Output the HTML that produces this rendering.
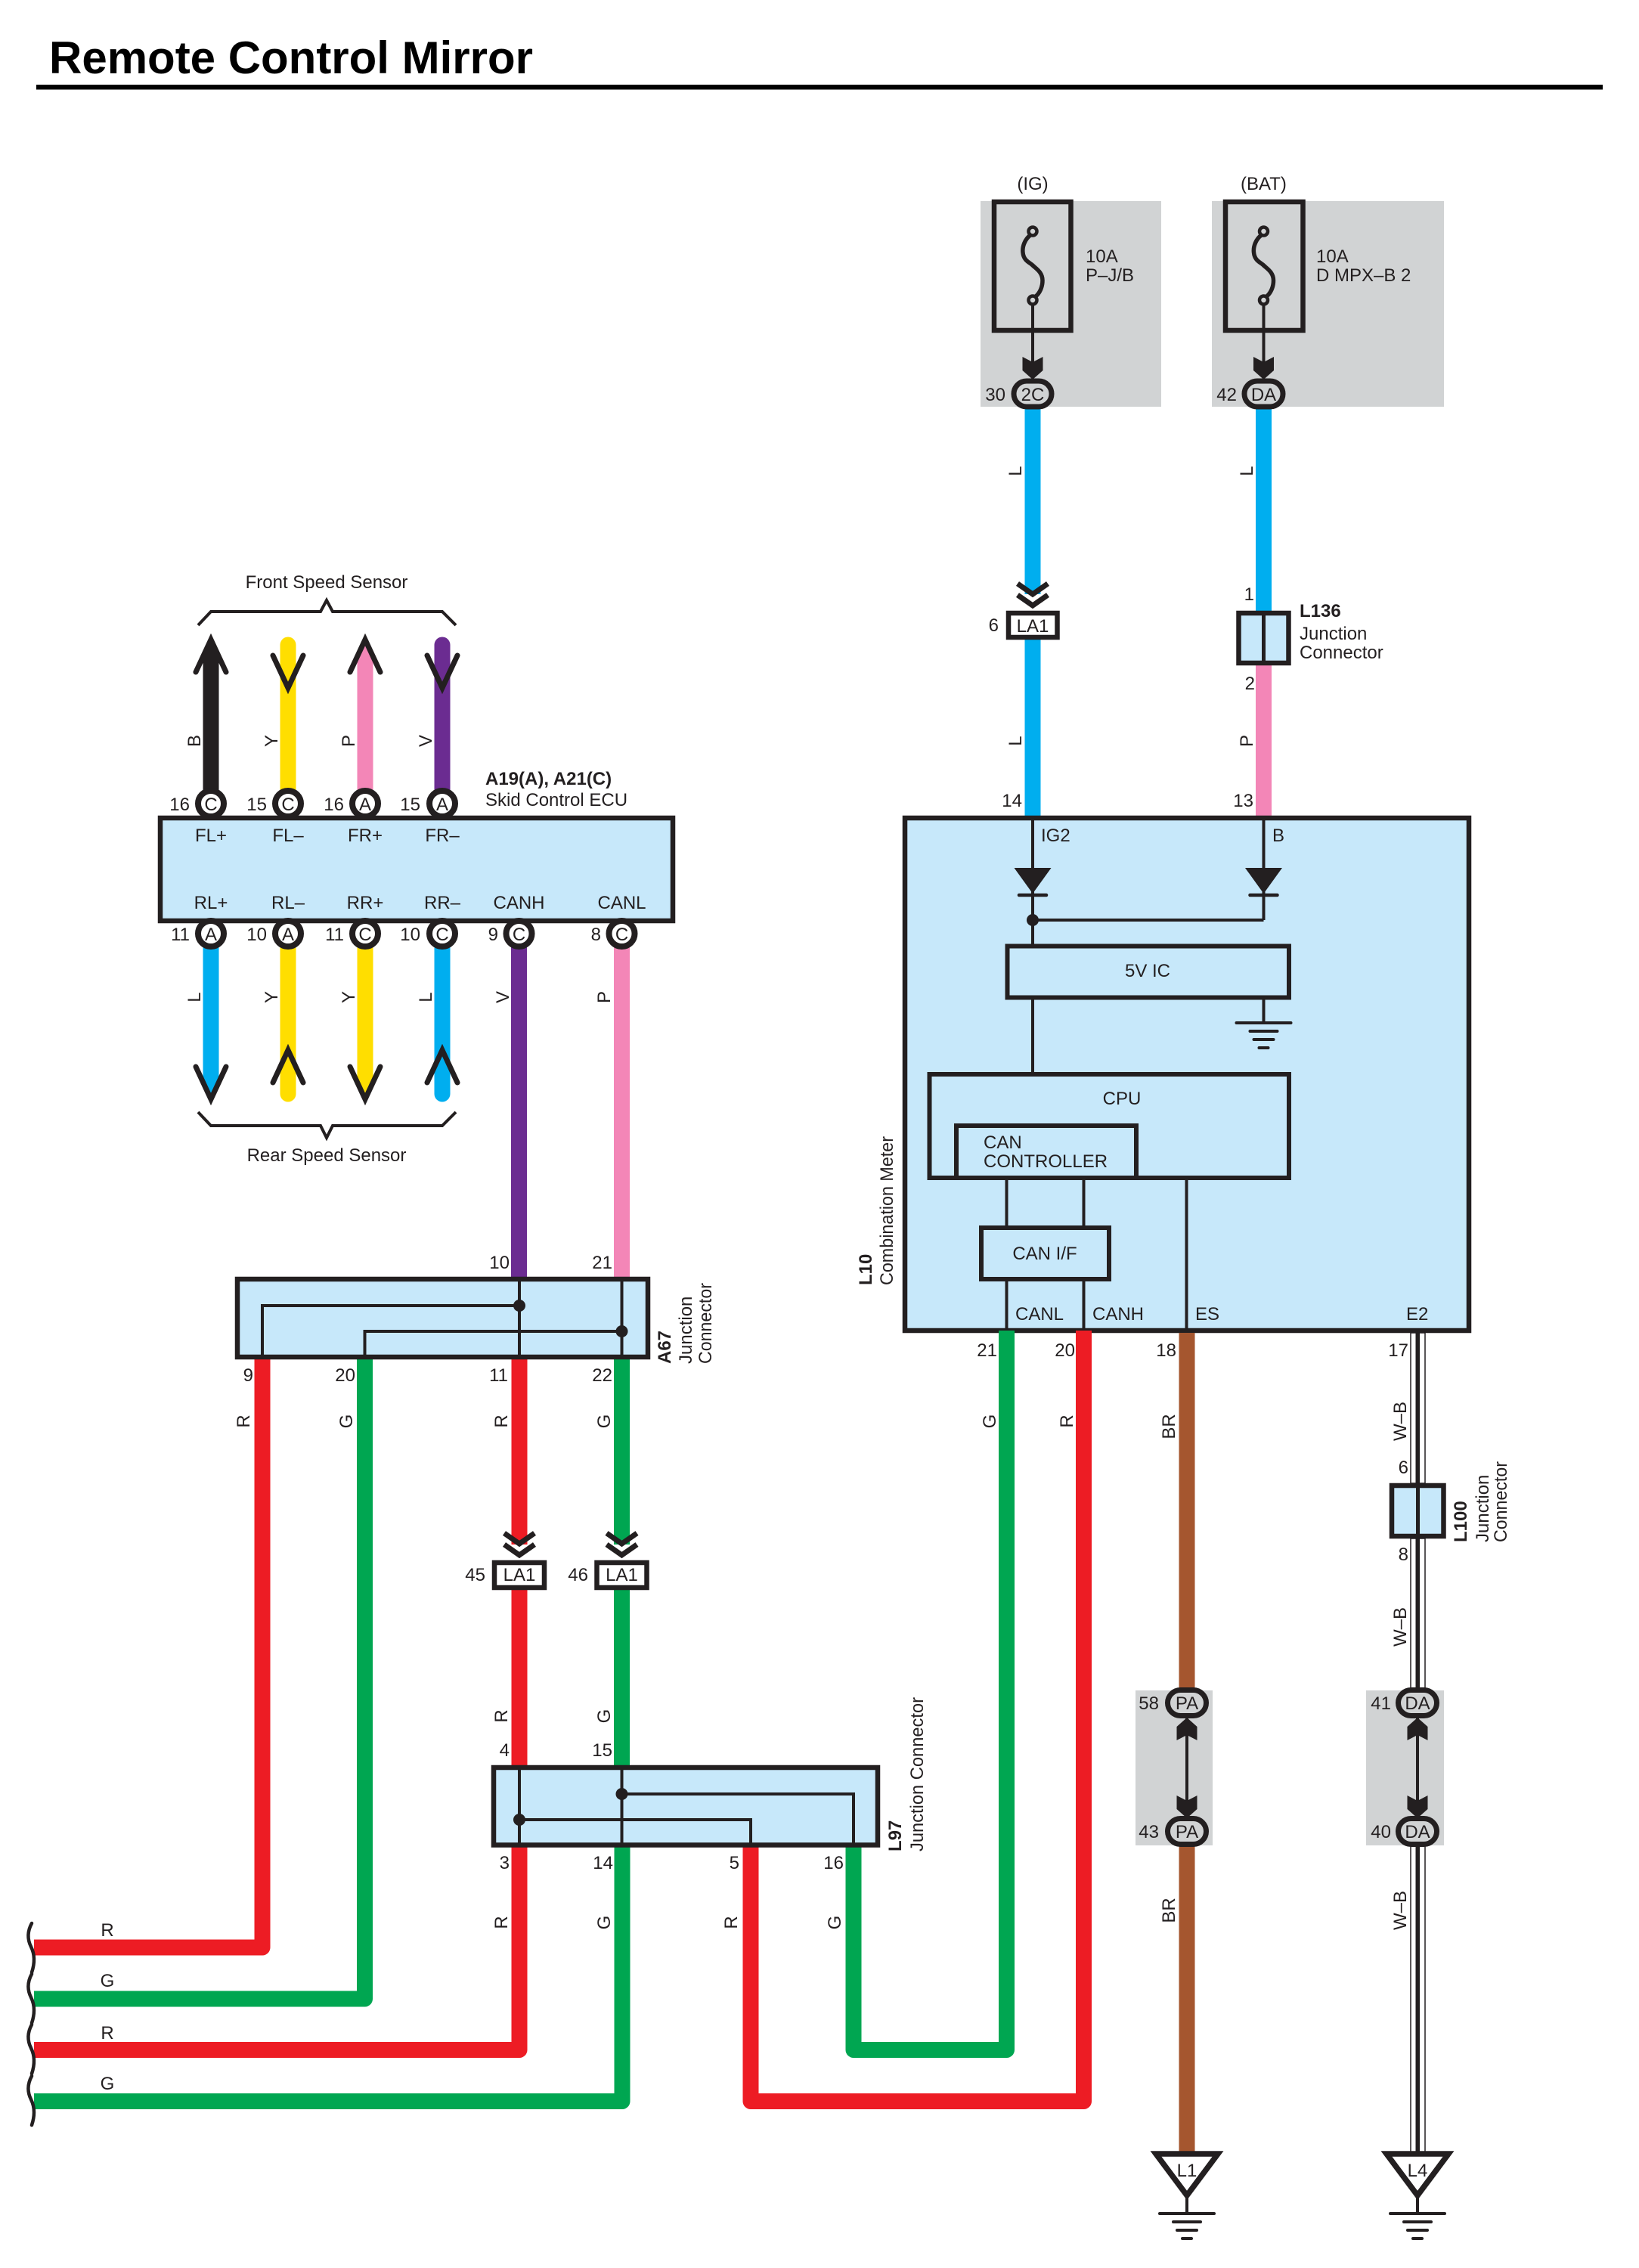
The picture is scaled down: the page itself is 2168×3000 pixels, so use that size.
<!DOCTYPE html>
<html>
<head>
<meta charset="utf-8">
<title>Remote Control Mirror</title>
<style>
html,body{margin:0;padding:0;background:#fff}
svg{display:block}
text{font-family:"Liberation Sans",sans-serif;font-size:24px;fill:#231f20}
.m{text-anchor:middle}
.e{text-anchor:end}
.b{font-weight:bold}
.w{fill:none;stroke-width:21;stroke-linejoin:round}
.box{fill:#c7e8fa;stroke:#231f20;stroke-width:6.5}
.ln{fill:none;stroke:#231f20;stroke-width:4}
.th{fill:none;stroke:#231f20;stroke-width:4;stroke-linecap:round}
.ch{fill:none;stroke:#231f20;stroke-width:7;stroke-linecap:round;stroke-linejoin:miter}
.pin{fill:#fff;stroke:#231f20;stroke-width:8}
.ov{fill:#d1d3d4;stroke:#231f20;stroke-width:7}
.la{fill:#fff;stroke:#231f20;stroke-width:6.5}
.dc{fill:none;stroke:#231f20;stroke-width:7}
.L{stroke:#00aeef}.Y{stroke:#ffde00}.P{stroke:#f386b7}.V{stroke:#6b2c91}.K{stroke:#231f20}
.R{stroke:#ed1c24}.G{stroke:#00a651}.BR{stroke:#a5562f}
</style>
</head>
<body>
<svg width="2168" height="3000" viewBox="0 0 2168 3000" xmlns="http://www.w3.org/2000/svg">
<defs>
<g id="dchev"><polyline class="dc" points="-20,-36 0,-22 20,-36"/><polyline class="dc" points="-20,-21 0,-7 20,-21"/></g>
<polygon id="ad" fill="#231f20" points="-13.5,-30 0,-23 13.5,-30 13.5,-12 0,0 -13.5,-12"/>
<g id="gnd">
<line class="th" x1="-36" x2="36" y1="0" y2="0"/><line class="th" x1="-18" x2="18" y1="11" y2="11"/><line class="th" x1="-13" x2="13" y1="22" y2="22"/><line class="th" x1="-6" x2="6" y1="33" y2="33"/>
</g>
<path id="sq" fill="none" stroke="#231f20" stroke-width="4.5" stroke-linecap="round" d="M42 0C36 11 36 21 41 31C46 41 46 53 42 65"/>
<g id="fuse">
<path fill="none" stroke="#231f20" stroke-width="5.5" d="M-3 311C-10 316-14 326-13 334C-12 345-4 347 0 351C4 355 13 360 13 371C13 380 9 388 4 392"/>
<circle cx="0" cy="306" r="5.5" fill="#d1d3d4" stroke="#231f20" stroke-width="4.5"/>
<circle cx="0" cy="397" r="5.5" fill="#d1d3d4" stroke="#231f20" stroke-width="4.5"/>
<line class="ln" x1="0" x2="0" y1="403" y2="485"/>
<use href="#ad" y="502"/>
</g>
<g id="diode">
<polygon fill="#231f20" points="-24.5,0 24.5,0 0,34"/>
<line stroke="#231f20" stroke-width="4.5" stroke-linecap="round" x1="-18" x2="18" y1="36" y2="36"/>
</g>
<g id="gtri">
<polygon fill="#fff" stroke="#231f20" stroke-width="7.5" stroke-linejoin="miter" points="-41,0 41,0 0,55"/>
<line class="ln" x1="0" x2="0" y1="58" y2="79"/>
<use href="#gnd" y="79"/>
</g>
</defs>

<rect width="2168" height="3000" fill="#fff"/>

<!-- title -->
<text class="b" x="65" y="97" style="font-size:60px;fill:#000" textLength="640" lengthAdjust="spacingAndGlyphs">Remote Control Mirror</text>
<rect x="48" y="112" width="2072" height="6.5" fill="#000"/>

<!-- grey areas -->
<rect x="1297" y="266" width="239" height="272" fill="#d1d3d4"/>
<rect x="1603" y="266" width="307" height="272" fill="#d1d3d4"/>
<rect x="1502" y="2236" width="102" height="205" fill="#d1d3d4"/>
<rect x="1807" y="2236" width="103" height="205" fill="#d1d3d4"/>

<!-- speed sensor wires -->
<line class="w K" x1="279" x2="279" y1="860" y2="1050"/>
<polygon fill="#231f20" points="268.5,872 279,846 289.5,872"/>
<line class="w Y" stroke-linecap="round" x1="381" x2="381" y1="853" y2="1045"/>
<line class="w P" x1="483" x2="483" y1="865" y2="1050"/>
<polygon fill="#f386b7" points="472.5,868 483,848 493.5,868"/>
<line class="w V" stroke-linecap="round" x1="585" x2="585" y1="853" y2="1045"/>
<line class="w L" x1="279" x2="279" y1="1240" y2="1440"/>
<polygon fill="#00aeef" points="268.5,1436 279,1454 289.5,1436"/>
<line class="w Y" stroke-linecap="round" x1="381" x2="381" y1="1240" y2="1447"/>
<line class="w Y" x1="483" x2="483" y1="1240" y2="1440"/>
<polygon fill="#ffde00" points="472.5,1436 483,1454 493.5,1436"/>
<line class="w L" stroke-linecap="round" x1="585" x2="585" y1="1240" y2="1447"/>
<polyline class="ch" points="259,889 279,846 299,889"/>
<polyline class="ch" points="361,867 381,910 401,867"/>
<polyline class="ch" points="463,889 483,846 503,889"/>
<polyline class="ch" points="565,867 585,910 605,867"/>
<polyline class="ch" points="259,1411 279,1454 299,1411"/>
<polyline class="ch" points="361,1432 381,1389 401,1432"/>
<polyline class="ch" points="463,1411 483,1454 503,1411"/>
<polyline class="ch" points="565,1432 585,1389 605,1432"/>

<!-- CAN wires down -->
<line class="w V" x1="686.5" x2="686.5" y1="1240" y2="1692"/>
<line class="w P" x1="822.5" x2="822.5" y1="1240" y2="1692"/>

<!-- braces -->
<polyline fill="none" stroke="#231f20" stroke-width="4" points="262,827 279,809 424,809 432,794 440,809 585,809 603,827"/>
<polyline fill="none" stroke="#231f20" stroke-width="4" points="262,1471 279,1489 424,1489 432,1505 440,1489 585,1489 603,1471"/>
<text class="m" x="432" y="778">Front Speed Sensor</text>
<text class="m" x="432" y="1536">Rear Speed Sensor</text>

<!-- ECU -->
<rect class="box" x="212" y="1082" width="678" height="136"/>
<g class="pins">
<circle class="pin" cx="279" cy="1063" r="17"/><circle class="pin" cx="381" cy="1063" r="17"/><circle class="pin" cx="483" cy="1063" r="17"/><circle class="pin" cx="585" cy="1063" r="17"/>
<circle class="pin" cx="279" cy="1235" r="17"/><circle class="pin" cx="381" cy="1235" r="17"/><circle class="pin" cx="483" cy="1235" r="17"/><circle class="pin" cx="585" cy="1235" r="17"/><circle class="pin" cx="686.5" cy="1235" r="17"/><circle class="pin" cx="822.5" cy="1235" r="17"/>
</g>
<text class="m" x="279" y="1072">C</text><text class="m" x="381" y="1072">C</text><text class="m" x="483" y="1072">A</text><text class="m" x="585" y="1072">A</text>
<text class="m" x="279" y="1244">A</text><text class="m" x="381" y="1244">A</text><text class="m" x="483" y="1244">C</text><text class="m" x="585" y="1244">C</text><text class="m" x="686.5" y="1244">C</text><text class="m" x="822.5" y="1244">C</text>
<text class="e" x="251" y="1072">16</text><text class="e" x="353" y="1072">15</text><text class="e" x="455" y="1072">16</text><text class="e" x="556" y="1072">15</text>
<text class="e" x="251" y="1244">11</text><text class="e" x="353" y="1244">10</text><text class="e" x="455" y="1244">11</text><text class="e" x="556" y="1244">10</text><text class="e" x="659" y="1244">9</text><text class="e" x="795" y="1244">8</text>
<text class="m" x="279" y="1113">FL+</text><text class="m" x="381" y="1113">FL–</text><text class="m" x="483" y="1113">FR+</text><text class="m" x="585" y="1113">FR–</text>
<text class="m" x="279" y="1202">RL+</text><text class="m" x="381" y="1202">RL–</text><text class="m" x="483" y="1202">RR+</text><text class="m" x="585" y="1202">RR–</text><text class="m" x="686.5" y="1202">CANH</text><text class="m" x="822.5" y="1202">CANL</text>
<text class="b" x="642" y="1038">A19(A), A21(C)</text>
<text x="642" y="1066">Skid Control ECU</text>
<text class="m" transform="rotate(-90 265 980)" x="265" y="980">B</text>
<text class="m" transform="rotate(-90 367 980)" x="367" y="980">Y</text>
<text class="m" transform="rotate(-90 469 980)" x="469" y="980">P</text>
<text class="m" transform="rotate(-90 571 980)" x="571" y="980">V</text>
<text class="m" transform="rotate(-90 265 1319)" x="265" y="1319">L</text>
<text class="m" transform="rotate(-90 367 1319)" x="367" y="1319">Y</text>
<text class="m" transform="rotate(-90 469 1319)" x="469" y="1319">Y</text>
<text class="m" transform="rotate(-90 571 1319)" x="571" y="1319">L</text>
<text class="m" transform="rotate(-90 673 1319)" x="673" y="1319">V</text>
<text class="m" transform="rotate(-90 807 1319)" x="807" y="1319">P</text>

<!-- power wires -->
<line class="w L" x1="1366" x2="1366" y1="538" y2="786"/>
<line class="w L" x1="1366" x2="1366" y1="846" y2="1082"/>
<line class="w L" x1="1671.5" x2="1671.5" y1="538" y2="808"/>
<line class="w P" x1="1671.5" x2="1671.5" y1="880" y2="1082"/>

<!-- fuses -->
<rect x="1315" y="267" width="101.5" height="170" fill="none" stroke="#231f20" stroke-width="6.5"/>
<rect x="1621" y="267" width="102.5" height="170" fill="none" stroke="#231f20" stroke-width="6.5"/>
<use href="#fuse" x="1366"/><use href="#fuse" x="1671.5"/>
<rect class="ov" x="1341" y="504" width="50" height="34" rx="17"/>
<rect class="ov" x="1646" y="504" width="51" height="34" rx="17"/>
<text class="m" x="1366" y="530">2C</text><text class="m" x="1671.5" y="530">DA</text>
<text class="e" x="1330" y="530">30</text><text class="e" x="1636" y="530">42</text>
<text class="m" x="1366" y="251">(IG)</text><text class="m" x="1671.5" y="251">(BAT)</text>
<text x="1436" y="347">10A</text><text x="1436" y="372">P–J/B</text>
<text x="1741" y="347">10A</text><text x="1741" y="372">D MPX–B 2</text>
<text class="m" transform="rotate(-90 1351 623)" x="1351" y="623">L</text>
<text class="m" transform="rotate(-90 1657 623)" x="1657" y="623">L</text>
<text class="m" transform="rotate(-90 1351 980)" x="1351" y="980">L</text>
<text class="m" transform="rotate(-90 1657 980)" x="1657" y="980">P</text>

<!-- LA1 top -->
<use href="#dchev" x="1366" y="808"/>
<rect class="la" x="1334" y="811" width="64.5" height="32"/>
<text class="m" x="1366" y="836">LA1</text>
<text class="e" x="1321" y="835">6</text>

<!-- L136 -->
<rect class="box" x="1638.5" y="811" width="66" height="66"/>
<line x1="1671.5" x2="1671.5" y1="811" y2="877" stroke="#231f20" stroke-width="5"/>
<text class="b" x="1719" y="816">L136</text>
<text x="1719" y="846">Junction</text>
<text x="1719" y="871">Connector</text>
<text class="e" x="1659" y="794">1</text><text class="e" x="1660" y="912">2</text>

<!-- L10 -->
<rect class="box" x="1197" y="1082" width="746" height="678"/>
<line class="ln" x1="1366" x2="1366" y1="1082" y2="1252"/>
<line class="ln" x1="1671.5" x2="1671.5" y1="1082" y2="1217"/>
<use href="#diode" x="1366" y="1148"/><use href="#diode" x="1671.5" y="1148"/>
<polyline class="ln" points="1366,1217 1671.5,1217"/>
<circle cx="1366" cy="1217" r="8" fill="#231f20"/>
<rect class="box" style="stroke-width:6" x="1332.5" y="1251.5" width="372.5" height="68"/>
<line class="ln" x1="1366" x2="1366" y1="1320" y2="1421"/>
<line class="ln" x1="1671.5" x2="1671.5" y1="1320" y2="1353"/>
<use href="#gnd" x="1671.5" y="1353"/>
<rect class="box" style="stroke-width:6" x="1229.5" y="1421" width="475.5" height="137"/>
<polyline fill="none" stroke="#231f20" stroke-width="6" points="1265,1558 1265,1489 1503,1489 1503,1558"/>
<line class="ln" x1="1331.5" x2="1331.5" y1="1558" y2="1760"/>
<line class="ln" x1="1433.5" x2="1433.5" y1="1558" y2="1760"/>
<line class="ln" x1="1569.5" x2="1569.5" y1="1558" y2="1760"/>
<rect class="box" style="stroke-width:6" x="1298" y="1624" width="169" height="68"/>
<text class="m" x="1518" y="1292">5V IC</text>
<text class="m" x="1484" y="1461">CPU</text>
<text x="1301" y="1519">CAN</text><text x="1301" y="1544">CONTROLLER</text>
<text class="m" x="1382" y="1666">CAN I/F</text>
<text x="1377" y="1113">IG2</text><text x="1683" y="1113">B</text>
<text x="1343" y="1746">CANL</text><text x="1445" y="1746">CANH</text><text x="1581" y="1746">ES</text><text x="1860" y="1746">E2</text>
<text class="e" x="1352" y="1067">14</text><text class="e" x="1658" y="1067">13</text>
<text transform="rotate(-90 1181 1700)" x="1181" y="1700" textLength="197" lengthAdjust="spacingAndGlyphs">Combination Meter</text>
<text class="b" transform="rotate(-90 1153 1700)" x="1153" y="1700">L10</text>

<!-- lower right wires -->
<line class="w BR" x1="1570" x2="1570" y1="1763" y2="2235"/>
<line class="w BR" x1="1570" x2="1570" y1="2440" y2="2852"/>
<g>
<rect x="1866" y="1763" width="19" height="199" fill="#fff" stroke="#231f20" stroke-width="1.5"/>
<rect x="1872.5" y="1763" width="5.5" height="199" fill="#231f20"/>
<rect x="1866" y="2035" width="19" height="200" fill="#fff" stroke="#231f20" stroke-width="1.5"/>
<rect x="1872.5" y="2035" width="5.5" height="200" fill="#231f20"/>
<rect x="1866" y="2440" width="19" height="410" fill="#fff" stroke="#231f20" stroke-width="1.5"/>
<rect x="1872.5" y="2440" width="5.5" height="410" fill="#231f20"/>
</g>
<text class="e" x="1319" y="1794">21</text><text class="e" x="1422" y="1794">20</text><text class="e" x="1556" y="1794">18</text><text class="e" x="1863" y="1794">17</text>
<text class="m" transform="rotate(-90 1554 1887)" x="1554" y="1887">BR</text>
<text class="m" transform="rotate(-90 1554 2527)" x="1554" y="2527">BR</text>
<text class="m" transform="rotate(-90 1860 1880)" x="1860" y="1880">W–B</text>
<text class="m" transform="rotate(-90 1860 2152)" x="1860" y="2152">W–B</text>
<text class="m" transform="rotate(-90 1860 2527)" x="1860" y="2527">W–B</text>
<text class="m" transform="rotate(-90 1317 1880)" x="1317" y="1880">G</text>
<text class="m" transform="rotate(-90 1419 1880)" x="1419" y="1880">R</text>

<!-- L100 -->
<rect class="box" x="1841" y="1965" width="68.5" height="67"/>
<line x1="1875.5" x2="1875.5" y1="1965" y2="2032" stroke="#231f20" stroke-width="5"/>
<text class="e" x="1863" y="1949">6</text><text class="e" x="1863" y="2064">8</text>
<text class="b" transform="rotate(-90 1940 2040)" x="1940" y="2040">L100</text>
<text transform="rotate(-90 1969 2040)" x="1969" y="2040">Junction</text>
<text transform="rotate(-90 1993 2040)" x="1993" y="2040" textLength="107" lengthAdjust="spacingAndGlyphs">Connector</text>

<!-- PA / DA -->
<line class="ln" x1="1570" x2="1570" y1="2272" y2="2405"/>
<line class="ln" x1="1875" x2="1875" y1="2272" y2="2405"/>
<use href="#ad" transform="translate(1570 2272) scale(1 -1)"/>
<use href="#ad" transform="translate(1875 2272) scale(1 -1)"/>
<use href="#ad" x="1570" y="2405"/>
<use href="#ad" x="1875" y="2405"/>
<rect class="ov" x="1544.5" y="2235.5" width="51" height="34" rx="17"/>
<rect class="ov" x="1544.5" y="2405.5" width="51" height="34" rx="17"/>
<rect class="ov" x="1849.5" y="2235.5" width="51" height="34" rx="17"/>
<rect class="ov" x="1849.5" y="2405.5" width="51" height="34" rx="17"/>
<text class="m" x="1570" y="2261">PA</text><text class="m" x="1570" y="2431">PA</text>
<text class="m" x="1875" y="2261">DA</text><text class="m" x="1875" y="2431">DA</text>
<text class="e" x="1533" y="2261">58</text><text class="e" x="1533" y="2431">43</text>
<text class="e" x="1840" y="2261">41</text><text class="e" x="1840" y="2431">40</text>

<!-- grounds -->
<use href="#gtri" x="1570" y="2849"/><use href="#gtri" x="1875" y="2849"/>
<text class="m" x="1570" y="2879">L1</text><text class="m" x="1875" y="2879">L4</text>

<!-- A67 and middle wires -->
<polyline class="w R" points="347,1795 347,2576 45,2576"/>
<polyline class="w G" points="482.5,1795 482.5,2644 45,2644"/>
<line class="w R" x1="687" x2="687" y1="1795" y2="2043"/>
<line class="w G" x1="822.5" x2="822.5" y1="1795" y2="2043"/>
<line class="w R" x1="687" x2="687" y1="2102" y2="2339"/>
<line class="w G" x1="822.5" x2="822.5" y1="2102" y2="2339"/>
<polyline class="w R" points="687,2440 687,2711.5 45,2711.5"/>
<polyline class="w G" points="823,2440 823,2779.5 45,2779.5"/>
<polyline class="w R" points="993,2440 993,2779.5 1433.5,2779.5 1433.5,1760"/>
<polyline class="w G" points="1129,2440 1129,2711.5 1331.5,2711.5 1331.5,1760"/>

<rect class="box" x="314" y="1692" width="543" height="103"/>
<line class="ln" x1="687" x2="687" y1="1692" y2="1795"/>
<line class="ln" x1="822.5" x2="822.5" y1="1692" y2="1795"/>
<polyline class="ln" points="347,1795 347,1727 687,1727"/>
<polyline class="ln" points="482.5,1795 482.5,1761 822.5,1761"/>
<circle cx="687" cy="1727" r="8" fill="#231f20"/><circle cx="822.5" cy="1761" r="8" fill="#231f20"/>
<text class="e" x="674" y="1678">10</text><text class="e" x="810" y="1678">21</text>
<text class="e" x="335" y="1827">9</text><text class="e" x="470" y="1827">20</text><text class="e" x="672" y="1827">11</text><text class="e" x="810" y="1827">22</text>
<text class="m" transform="rotate(-90 330 1880)" x="330" y="1880">R</text>
<text class="m" transform="rotate(-90 466 1880)" x="466" y="1880">G</text>
<text class="m" transform="rotate(-90 671 1880)" x="671" y="1880">R</text>
<text class="m" transform="rotate(-90 807 1880)" x="807" y="1880">G</text>
<text class="b" transform="rotate(-90 887 1804)" x="887" y="1804">A67</text>
<text transform="rotate(-90 915 1804)" x="915" y="1804">Junction</text>
<text transform="rotate(-90 941 1804)" x="941" y="1804" textLength="107" lengthAdjust="spacingAndGlyphs">Connector</text>

<!-- LA1 lower -->
<use href="#dchev" x="687" y="2064"/><use href="#dchev" x="822.5" y="2064"/>
<rect class="la" x="654" y="2067" width="66" height="33"/>
<rect class="la" x="789.5" y="2067" width="66" height="33"/>
<text class="m" x="687" y="2091">LA1</text><text class="m" x="822.5" y="2091">LA1</text>
<text class="e" x="642" y="2091">45</text><text class="e" x="778" y="2091">46</text>
<text class="m" transform="rotate(-90 671 2270)" x="671" y="2270">R</text>
<text class="m" transform="rotate(-90 807 2270)" x="807" y="2270">G</text>
<text class="e" x="674" y="2323">4</text><text class="e" x="810" y="2323">15</text>

<!-- L97 -->
<rect class="box" x="653" y="2338" width="508" height="102.5"/>
<line class="ln" x1="687" x2="687" y1="2338" y2="2440"/>
<line class="ln" x1="822.5" x2="822.5" y1="2338" y2="2440"/>
<polyline class="ln" points="822.5,2373 1129,2373 1129,2440"/>
<polyline class="ln" points="687,2407 993,2407 993,2440"/>
<circle cx="822.5" cy="2373" r="8" fill="#231f20"/><circle cx="687" cy="2407" r="8" fill="#231f20"/>
<text class="b" transform="rotate(-90 1192 2449)" x="1192" y="2449">L97</text>
<text transform="rotate(-90 1221 2449)" x="1221" y="2449" textLength="204" lengthAdjust="spacingAndGlyphs">Junction Connector</text>
<text class="e" x="674" y="2472">3</text><text class="e" x="811" y="2472">14</text><text class="e" x="978" y="2472">5</text><text class="e" x="1116" y="2472">16</text>
<text class="m" transform="rotate(-90 671 2543)" x="671" y="2543">R</text>
<text class="m" transform="rotate(-90 807 2543)" x="807" y="2543">G</text>
<text class="m" transform="rotate(-90 975 2543)" x="975" y="2543">R</text>
<text class="m" transform="rotate(-90 1112 2543)" x="1112" y="2543">G</text>

<!-- left side -->
<use href="#sq" y="2544"/><use href="#sq" y="2611"/><use href="#sq" y="2678"/><use href="#sq" y="2746"/>
<text class="m" x="142" y="2561">R</text><text class="m" x="142" y="2628">G</text><text class="m" x="142" y="2697">R</text><text class="m" x="142" y="2764">G</text>
</svg>
</body>
</html>
